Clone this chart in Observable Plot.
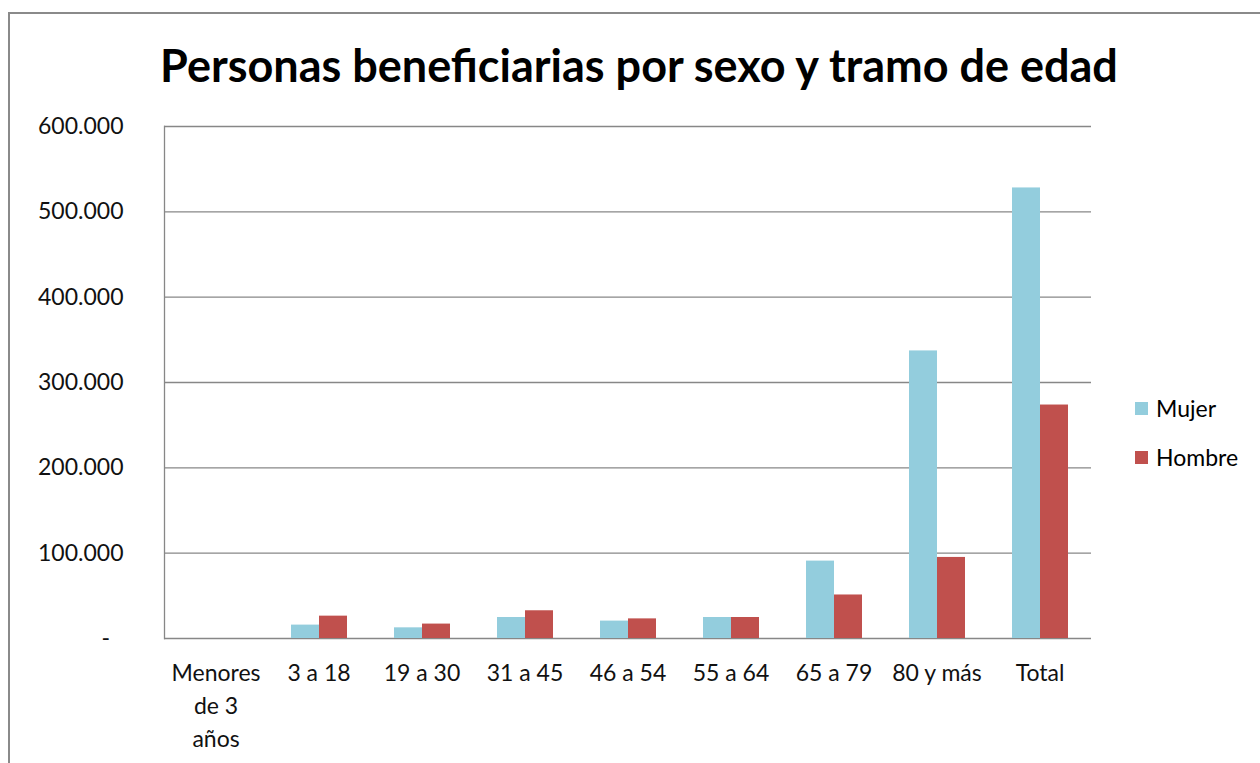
<!DOCTYPE html>
<html><head><meta charset="utf-8">
<script src="https://cdn.jsdelivr.net/npm/d3@7"></script>
<script src="https://cdn.jsdelivr.net/npm/@observablehq/plot@0.6"></script>
<style>
html,body{margin:0;padding:0;background:#fff;overflow:hidden;width:1260px;height:763px;}
body{font-family:Lato, "Open Sans", sans-serif;color:#000;position:relative;}
#frame{position:absolute;left:8px;top:12px;width:1400px;height:900px;border:2px solid #8a8a8a;box-sizing:border-box;}
#title{position:absolute;left:9px;width:1260px;top:37px;text-align:center;font-weight:bold;font-size:45px;line-height:56px;color:#000;}
#chart{position:absolute;left:0;top:100px;}
#legend{position:absolute;left:1135px;top:394px;font-size:23px;}
.item{display:flex;align-items:center;height:28px;margin-bottom:21px;}
.sw{width:13px;height:13px;margin-right:8px;}
</style>
</head><body>
<div id="frame"></div>
<div id="title">Personas beneficiarias por sexo y tramo de edad</div>
<div id="chart"></div>
<div id="legend"></div>
<script>
const categories = ["Menores de 3 años","3 a 18","19 a 30","31 a 45","46 a 54","55 a 64","65 a 79","80 y más","Total"];
const categoryLabels = ["Menores\nde 3\naños","3 a 18","19 a 30","31 a 45","46 a 54","55 a 64","65 a 79","80 y más","Total"];
const sexes = ["Mujer","Hombre"];
const mujer = [0, 15700, 12500, 24600, 20400, 24600, 90700, 337000, 528000];
const hombre = [0, 26200, 16900, 32500, 23000, 24600, 51000, 95000, 273600];
const colors = ["#93CDDD","#C0504D"];
const yTicks = [0,100000,200000,300000,400000,500000,600000];

const data = categories.flatMap((c,i)=>[
  {cat:c, sex:"Mujer", v:mujer[i]},
  {cat:c, sex:"Hombre", v:hombre[i]}
]);
const labelOf = new Map(categories.map((c,i)=>[c,categoryLabels[i]]));
const fmt = d => d === 0 ? "-\u2007" : d3.format(",")(d).replace(/,/g,".");

const chart = Plot.plot({
  width:1260, height:660,
  marginTop:26, marginLeft:163, marginRight:168, marginBottom:122,
  style:{fontFamily:"Lato, 'Open Sans', sans-serif", fontSize:"23px", color:"#000", background:"transparent", overflow:"visible"},
  fx:{domain:categories, padding:0, label:null},
  x:{domain:sexes, paddingInner:0, paddingOuter:0.78, axis:null},
  y:{domain:[0,600000], label:null},
  color:{domain:sexes, range:colors},
  marks:[
    Plot.ruleY(yTicks, {stroke:"#878787", strokeWidth:1.3}),
    Plot.barY(data, {fx:"cat", x:"sex", y:"v", fill:"sex"}),
    Plot.axisY({ticks:yTicks, tickSize:0, tickPadding:41, tickFormat:fmt, label:null, fill:"#111"}),
    Plot.axisFx({anchor:"bottom", tickSize:0, tickPadding:19, tickFormat:d=>labelOf.get(d), lineHeight:1.43, label:null, fill:"#111"}),
    Plot.frame({anchor:"left", facetAnchor:"left", stroke:"#878787", strokeWidth:1.3})
  ]
});
document.getElementById("chart").appendChild(chart);

const legend = document.getElementById("legend");
sexes.forEach((s,i)=>{
  const it = document.createElement("div"); it.className="item";
  const sw = document.createElement("div"); sw.className="sw"; sw.style.background=colors[i];
  const t = document.createElement("span"); t.textContent=s;
  it.appendChild(sw); it.appendChild(t); legend.appendChild(it);
});
</script>
</body></html>
